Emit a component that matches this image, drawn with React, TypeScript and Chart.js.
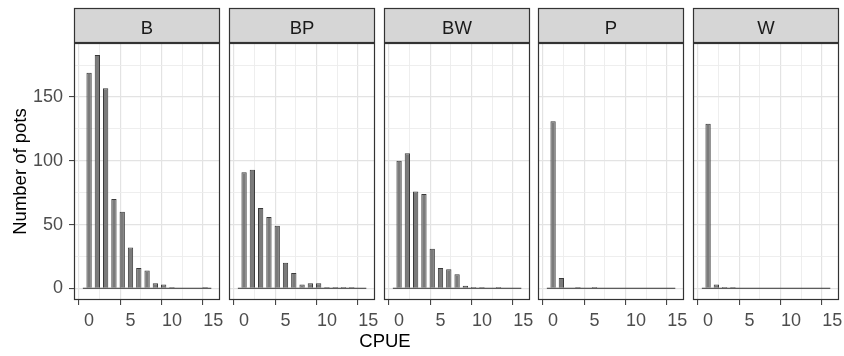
import React, { useEffect, useRef } from "react";
import { Chart, registerables } from "chart.js";

Chart.register(...registerables);

// ---- data ----
const cpue = [0, 1, 2, 3, 4, 5, 6, 7, 8, 9, 10, 11, 12, 13, 14];
const panelNames = ["B", "BP", "BW", "P", "W"];
const countsB = [169, 183, 157, 70, 60, 32, 16, 14, 4, 3, 1, 0, 0, 0, 1];
const countsBP = [91, 93, 63, 56, 49, 20, 12, 3, 4, 4, 1, 1, 1, 1, 0];
const countsBW = [100, 106, 76, 74, 31, 16, 15, 11, 2, 1, 1, 0, 1, 0, 0];
const countsP = [131, 8, 0, 1, 0, 1, 0, 0, 0, 0, 0, 0, 0, 0, 0];
const countsW = [129, 3, 1, 1, 0, 0, 0, 0, 0, 0, 0, 0, 0, 0, 0];
const panelCounts = [countsB, countsBP, countsBW, countsP, countsW];
const baselineX = [-0.75, 14.75];
const xGridValues = [0, 2.5, 5, 7.5, 10, 12.5, 15];
const xTickLabels = [0, 5, 10, 15];
const yGridValues = [0, 25, 50, 75, 100, 125, 150, 175];
const yTickLabels = [0, 50, 100, 150];
const yTitle = "Number of pots";
const xTitle = "CPUE";

// ---- layout / style ----
const X_MIN = -1.82;
const X_MAX = 15.8;
const Y_MIN = -9.2;
const Y_MAX = 192.4;
const PANEL_LEFTS = [74, 229, 384, 538, 693];
const PANEL_W = 146;
const SIDE = 20;
const H = 356;
const STRIP_TOP = 8;
const PLOT_TOP = 43;
const PLOT_BOTTOM = 300;
const FONT = "'Liberation Sans', Arial, Helvetica, sans-serif";

const facetPlugin = (name: string) => ({
  id: "facet_" + name,
  afterDraw(chart: any) {
    const { ctx, chartArea } = chart;
    const l = Math.round(chartArea.left);
    const r = Math.round(chartArea.right);
    const t = Math.round(chartArea.top);
    const b = Math.round(chartArea.bottom);
    ctx.save();
    ctx.fillStyle = "#d6d6d6";
    ctx.fillRect(l, STRIP_TOP, r - l, t - STRIP_TOP);
    ctx.strokeStyle = "#333333";
    ctx.lineWidth = 1.2;
    ctx.strokeRect(l + 0.5, STRIP_TOP + 0.5, r - l - 1, t - STRIP_TOP - 1);
    ctx.strokeRect(l + 0.5, t + 0.5, r - l - 1, b - t - 1);
    ctx.fillStyle = "#1a1a1a";
    ctx.font = "18.5px " + FONT;
    ctx.textAlign = "center";
    ctx.textBaseline = "alphabetic";
    ctx.fillText(name, (l + r) / 2, 34);
    ctx.restore();
  },
});

function makeConfig(name: string, counts: number[], first: boolean): any {
  const isMajorX = (v: number) => xTickLabels.includes(v);
  const isMajorY = (v: number) => yTickLabels.includes(v);
  return {
    type: "bar",
    data: {
      datasets: [
        {
          type: "line",
          data: baselineX.map((x) => ({ x, y: 0 })),
          borderColor: "#333333",
          borderWidth: 1,
          pointRadius: 0,
          order: 0,
        },
        {
          type: "bar",
          data: cpue.map((x, i) => ({ x, y: counts[i] })),
          backgroundColor: "#7b7b7b",
          borderColor: "#3a3a3a",
          borderWidth: 1,
          barPercentage: 0.64,
          categoryPercentage: 1,
          order: 1,
        },
      ],
    },
    options: {
      animation: false,
      responsive: false,
      maintainAspectRatio: false,
      layout: { padding: { top: PLOT_TOP, left: first ? 0 : SIDE, right: SIDE, bottom: 0 } },
      plugins: { legend: { display: false }, tooltip: { enabled: false } },
      scales: {
        x: {
          type: "linear",
          min: X_MIN,
          max: X_MAX,
          offset: false,
          afterBuildTicks: (s: any) => {
            s.ticks = xGridValues.map((v) => ({ value: v }));
          },
          afterFit: (s: any) => {
            s.height = H - PLOT_BOTTOM;
          },
          border: { display: false },
          grid: {
            color: (c: any) => (c.tick && isMajorX(c.tick.value) ? "#e3e3e3" : "#ececec"),
            lineWidth: (c: any) => (c.tick && isMajorX(c.tick.value) ? 1.2 : 0.9),
            tickColor: (c: any) => (c.tick && isMajorX(c.tick.value) ? "#333333" : "rgba(0,0,0,0)"),
            tickWidth: 1,
            tickLength: 5,
            drawTicks: true,
          },
          ticks: {
            autoSkip: false,
            maxRotation: 0,
            padding: 5,
            color: "#4d4d4d",
            font: { size: 18, family: FONT },
            callback: (v: any) => (isMajorX(v) ? String(v) : ""),
          },
        },
        y: {
          type: "linear",
          min: Y_MIN,
          max: Y_MAX,
          afterBuildTicks: (s: any) => {
            s.ticks = yGridValues.map((v) => ({ value: v }));
          },
          afterFit: (s: any) => {
            s.width = first ? PANEL_LEFTS[0] : 0;
          },
          border: { display: false },
          grid: {
            color: (c: any) => (c.tick && isMajorY(c.tick.value) ? "#e3e3e3" : "#ececec"),
            lineWidth: (c: any) => (c.tick && isMajorY(c.tick.value) ? 1.2 : 0.9),
            tickColor: (c: any) => (c.tick && isMajorY(c.tick.value) ? "#333333" : "rgba(0,0,0,0)"),
            tickWidth: 1,
            tickLength: 5,
            drawTicks: first,
          },
          title: {
            display: first,
            text: yTitle,
            color: "#000000",
            font: { size: 18.5, family: FONT },
            padding: { top: 10, bottom: 0 },
          },
          ticks: {
            display: first,
            autoSkip: false,
            padding: 6,
            color: "#4d4d4d",
            font: { size: 18, family: FONT },
            callback: (v: any) => (isMajorY(v) ? String(v) : ""),
          },
        },
      },
    },
    plugins: [facetPlugin(name)],
  };
}

function Panel({ index }: { index: number }) {
  const ref = useRef<HTMLCanvasElement>(null);
  const first = index === 0;
  const left = first ? 0 : PANEL_LEFTS[index] - SIDE;
  const width = first ? PANEL_LEFTS[0] + PANEL_W + SIDE : PANEL_W + 2 * SIDE;
  useEffect(() => {
    if (!ref.current) return;
    const chart = new Chart(ref.current, makeConfig(panelNames[index], panelCounts[index], first));
    return () => chart.destroy();
  }, [index]);
  return (
    <div style={{ position: "absolute", left, top: 0, width, height: H }}>
      <canvas ref={ref} width={width} height={H} style={{ width, height: H, display: "block" }} />
    </div>
  );
}

export default function App() {
  return (
    <div style={{ position: "absolute", left: 0, top: 0, width: 844, height: H, background: "#ffffff" }}>
      {panelNames.map((n, i) => (
        <Panel key={n} index={i} />
      ))}
      <div
        style={{
          position: "absolute",
          left: 385,
          top: 331.5,
          transform: "translateX(-50%)",
          fontFamily: FONT,
          fontSize: 18.5,
          lineHeight: "18.5px",
          color: "#000000",
          whiteSpace: "nowrap",
        }}
      >
        {xTitle}
      </div>
    </div>
  );
}
